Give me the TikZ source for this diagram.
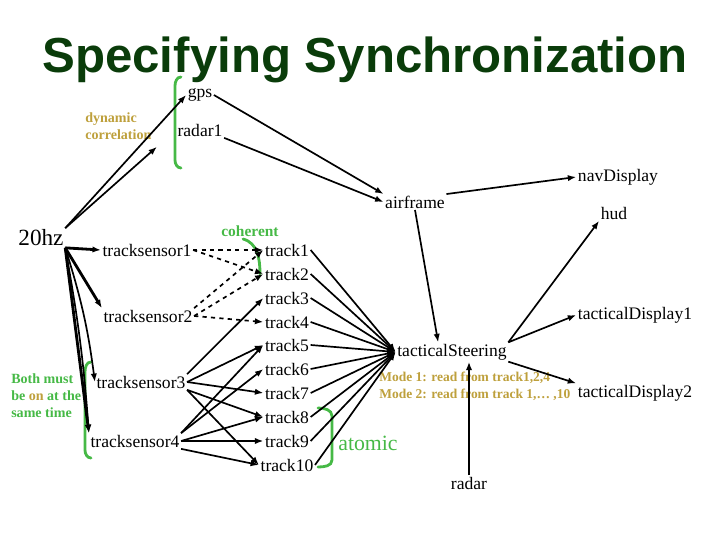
\documentclass[tikz,border=0pt]{standalone}
\usepackage{fontspec}
\setmainfont{Liberation Serif}
\newfontfamily\titlefont{Liberation Sans}
\usetikzlibrary{arrows.meta}
\definecolor{titlegreen}{RGB}{10,60,10}
\definecolor{notegreen}{RGB}{70,185,70}
\definecolor{notegold}{RGB}{190,160,60}
\tikzset{
	lbl/.style={font=\fontsize{12.5}{14}\selectfont, inner sep=1pt},
	note/.style={font=\fontsize{10}{12}\selectfont\bfseries, text=notegold, align=left, inner sep=0pt},
	arr/.style={-{Latex[length=6pt,width=4.5pt]}, line width=1.2pt},
	heavy/.style={arr, line width=2pt},
	dasharr/.style={arr, dashed},
	brace/.style={notegreen, line width=2pt, line cap=round}
}

\begin{document}
\begin{tikzpicture}
	\useasboundingbox (0,0) rectangle (18,13.5);
	\node[anchor=base, text=titlegreen, font=\titlefont\fontsize{35}{40}\selectfont\bfseries] (title) at (9.125,11.675) {Specifying Synchronization};
	% sources
	\node[lbl] (gps) at (5.0,11.125) {gps};
	\node[lbl] (radar1) at (5.0,10.25) {radar1};
	\node[note, anchor=west, font=\fontsize{10}{12.5}\selectfont\bfseries] (dyncorr) at (2.125,10.35) {dynamic\\correlation};
	\node[lbl] (airframe) at (10.375,8.45) {airframe};
	\node[lbl] (navDisplay) at (15.45,9.075) {navDisplay};
	\node[lbl] (hud) at (15.35,8.175) {hud};
	\node[lbl, font=\fontsize{16.5}{18}\selectfont] (hz) at (1.025,7.55) {20hz};
	% sensors
	\node[lbl] (ts1) at (3.675,7.25) {tracksensor1};
	\node[lbl] (ts2) at (3.7,5.6) {tracksensor2};
	\node[lbl] (ts3) at (3.525,3.95) {tracksensor3};
	\node[lbl] (ts4) at (3.375,2.475) {tracksensor4};
	% tracks
	\node[lbl] (track1) at (7.175,7.25) {track1};
	\node[lbl] (track2) at (7.175,6.65) {track2};
	\node[lbl] (track3) at (7.175,6.05) {track3};
	\node[lbl] (track4) at (7.175,5.45) {track4};
	\node[lbl] (track5) at (7.175,4.875) {track5};
	\node[lbl] (track6) at (7.175,4.275) {track6};
	\node[lbl] (track7) at (7.175,3.675) {track7};
	\node[lbl] (track8) at (7.175,3.075) {track8};
	\node[lbl] (track9) at (7.175,2.475) {track9};
	\node[lbl] (track10) at (7.175,1.875) {track10};
	% consumers
	\node[lbl] (tacSteer) at (11.3,4.7) {tacticalSteering};
	\node[lbl] (tacDisp1) at (15.875,5.625) {tacticalDisplay1};
	\node[lbl] (tacDisp2) at (15.875,3.675) {tacticalDisplay2};
	\node[lbl] (radar) at (11.725,1.425) {radar};
	% notes
	\node[note, anchor=west, font=\fontsize{9.6}{12}\selectfont\bfseries] (modes) at (9.475,3.84) {Mode 1: read from track1,2,4\\Mode 2: read from track 1,\dots\ ,10};
	\node[note, text=notegreen, font=\fontsize{11}{13}\selectfont\bfseries] (coherent) at (6.25,7.725) {coherent};
	\node[note, text=notegreen, anchor=west] (bothmust) at (0.275,3.6) {Both must\\be \textcolor{notegold}{on} at the\\same time};
	\node[text=notegreen, font=\fontsize{15.5}{17}\selectfont, inner sep=0pt] (atomic) at (9.2,2.425) {atomic};
	% green brackets
	\draw[brace] (4.525,11.575) to[out=180,in=90] (4.375,11.35) -- (4.375,9.5) to[out=-90,in=180] (4.525,9.3);
	\draw[brace] (6.075,7.525) to[out=-15,in=90] (6.5,6.65);
	\draw[brace] (2.275,4.45) to[out=180,in=90] (2.125,4.2) -- (2.125,2.25) to[out=-90,in=180] (2.275,2.05);
	\draw[brace] (7.95,3.3) to[out=0,in=90] (8.3,3.1) -- (8.3,2.0) to[out=-90,in=0] (7.95,1.825);
	% 20hz
	\draw[arr] (hz.north east) -- (gps.west);
	\draw[arr, shorten >=18pt] (hz.north east) -- (radar1.west);
	\draw[heavy] (hz.south east) -- (ts1.west);
	\draw[heavy] (hz.south east) -- (ts2.north west);
	\draw[arr] (hz.south east) to[bend left=5] (ts3.west);
	\draw[heavy] (hz.south east) -- (ts4.north west);
	\draw[arr] (hz.south east) to[bend left=3] (ts4.north west);
	% to airframe
	\draw[arr] (gps.east) -- (airframe.north west);
	\draw[arr] (radar1.south east) -- (airframe.west);
	\draw[arr] (airframe.north east) -- (navDisplay.west);
	\draw[arr] (airframe.south) -- (tacSteer.145);
	% sensors to tracks
	\draw[dasharr] (ts1.east) -- (track1.west);
	\draw[dasharr] (ts1.east) -- (track2.west);
	\draw[dasharr] (ts2.north east) -- (track1.west);
	\draw[dasharr] (ts2.east) -- (track2.west);
	\draw[dasharr] (ts2.east) -- (track4.west);
	\draw[arr] (ts3.north east) -- (track3.west);
	\draw[arr] (ts3.east) -- (track5.west);
	\draw[arr] (ts3.east) -- (track7.west);
	\draw[arr] (ts3.south east) -- (track8.west);
	\draw[arr] (ts3.south east) -- (track10.west);
	\draw[arr] (ts4.north east) -- (track5.west);
	\draw[arr] (ts4.north east) -- (track6.west);
	\draw[arr] (ts4.east) -- (track8.west);
	\draw[arr] (ts4.east) -- (track9.west);
	\draw[arr] (ts4.south east) -- (track10.west);
	% tracks to tacticalSteering
	\draw[arr] (track1.east) -- (tacSteer.west);
	\draw[arr] (track2.east) -- (tacSteer.west);
	\draw[arr] (track3.east) -- (tacSteer.west);
	\draw[arr] (track4.east) -- (tacSteer.west);
	\draw[arr] (track5.east) -- (tacSteer.west);
	\draw[arr] (track6.east) -- (tacSteer.west);
	\draw[arr] (track7.east) -- (tacSteer.west);
	\draw[arr] (track8.east) -- (tacSteer.west);
	\draw[arr] (track9.east) -- (tacSteer.west);
	\draw[arr] (track10.east) -- (tacSteer.west);
	% tacticalSteering out
	\draw[arr] (tacSteer.north east) -- (hud.south west);
	\draw[arr] (tacSteer.north east) -- (tacDisp1.west);
	\draw[arr] (tacSteer.south east) -- (tacDisp2.north west);
	\draw[arr] (radar.north) -- (radar.north |- tacSteer.south);
\end{tikzpicture}
\end{document}
